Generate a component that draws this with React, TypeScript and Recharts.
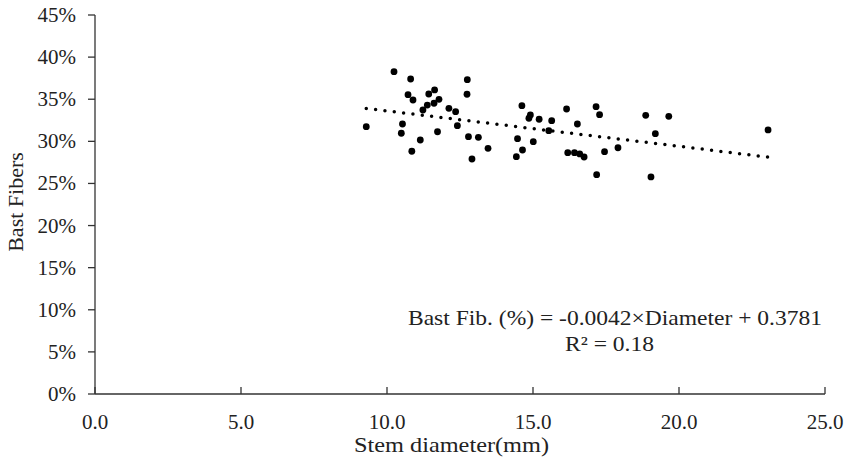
import { ScatterChart, Scatter, XAxis, YAxis } from 'recharts';

const diameter = [
  10.24, 10.81, 12.75, 10.72, 10.89, 11.43, 11.63, 11.78, 11.61, 11.38,
  11.23, 12.74, 12.12, 12.35, 12.41, 10.53, 10.49, 11.14, 10.85, 11.73,
  12.79, 13.13, 12.91, 13.46, 14.62, 14.91, 14.86, 15.21, 15.64, 15.54,
  14.47, 15.01, 14.64, 14.43, 16.15, 16.52, 17.16, 17.28, 16.19, 16.42,
  16.6, 16.75, 17.45, 17.91, 17.18, 18.86, 19.65, 19.19, 19.04, 23.05, 9.29,
];

const bastFiber = [
  0.3827, 0.374, 0.3732, 0.3554, 0.3491, 0.3562, 0.361, 0.3499, 0.3452, 0.3431,
  0.3372, 0.3559, 0.3392, 0.3352, 0.3186, 0.3206, 0.3096, 0.3016, 0.2882, 0.3114,
  0.3055, 0.3048, 0.279, 0.2917, 0.3423, 0.3313, 0.3274, 0.3262, 0.3245, 0.3126,
  0.3031, 0.2996, 0.2897, 0.2818, 0.3384, 0.3206, 0.3411, 0.3316, 0.2865, 0.2865,
  0.285, 0.2814, 0.2877, 0.2924, 0.2604, 0.3309, 0.3297, 0.3091, 0.2577, 0.3135, 0.3174,
];

const xTicks = [0, 5, 10, 15, 20, 25];
const yTicks = [0, 0.05, 0.1, 0.15, 0.2, 0.25, 0.3, 0.35, 0.4, 0.45];

// linear trendline shown on the chart
const slope = -0.0042;
const intercept = 0.3781;

const points = diameter.map((d, i) => ({ x: d, y: bastFiber[i] }));
const minX = Math.min(...diameter);
const maxX = Math.max(...diameter);
const trend = [
  { x: minX, y: slope * minX + intercept },
  { x: maxX, y: slope * maxX + intercept },
];

const font = '"Liberation Serif", "Times New Roman", serif';
const axisColor = '#333';

function XTick(props: any) {
  const { x, y, payload } = props;
  return (
    <g>
      <line x1={x} y1={y} x2={x} y2={y - 7} stroke={axisColor} strokeWidth={1.3} />
      <text x={x} y={y + 35} textAnchor="middle" fontFamily={font} fontSize={21} fill="#222">
        {payload.value.toFixed(1)}
      </text>
    </g>
  );
}

function YTick(props: any) {
  const { x, y, payload } = props;
  return (
    <text x={x} y={y + 7} textAnchor="end" fontFamily={font} fontSize={21} fill="#222">
      {Math.round(payload.value * 100)}%
    </text>
  );
}

export default function App() {
  return (
    <div style={{ position: 'relative', width: 849, height: 465, background: '#fff' }}>
      <style>{`body{margin:0}`}</style>
      <ScatterChart width={849} height={465} margin={{ top: 15, right: 24, bottom: 0, left: 0 }}>
        <XAxis
          type="number"
          dataKey="x"
          domain={[0, 25]}
          ticks={xTicks}
          height={71}
          tickSize={0}
          tickMargin={0}
          tickLine={false}
          tick={<XTick />}
          axisLine={{ stroke: axisColor, strokeWidth: 1.3 }}
        />
        <YAxis
          type="number"
          dataKey="y"
          domain={[0, 0.45]}
          ticks={yTicks}
          width={95}
          tickSize={7}
          tickMargin={12}
          tick={<YTick />}
          tickLine={{ stroke: axisColor, strokeWidth: 1.3 }}
          axisLine={{ stroke: axisColor, strokeWidth: 1.3 }}
        />
        <Scatter data={points} fill="#000" isAnimationActive={false} shape={(p: any) => <circle cx={p.cx} cy={p.cy} r={3.4} fill="#000" />} />
        <Scatter
          data={trend}
          isAnimationActive={false}
          line={{ stroke: '#000', strokeWidth: 3.5, strokeDasharray: '0 9.4', strokeLinecap: 'round' }}
          shape={() => <g />}
        />
      </ScatterChart>
      <svg width={849} height={465} style={{ position: 'absolute', left: 0, top: 0, pointerEvents: 'none' }}>
        <text x={354} y={452} textLength={195} lengthAdjust="spacingAndGlyphs" fontFamily={font} fontSize={22} fill="#222">
          Stem diameter(mm)
        </text>
        <text
          x={15}
          y={202}
          transform="rotate(-90 15 202)"
          textAnchor="middle"
          dominantBaseline="central"
          fontFamily={font}
          fontSize={22}
          fill="#222"
        >
          Bast Fibers
        </text>
        <text x={408} y={325} textLength={414} lengthAdjust="spacingAndGlyphs" fontFamily={font} fontSize={21} fill="#222">
          Bast Fib. (%) = -0.0042×Diameter  + 0.3781
        </text>
        <text x={565} y={351} textLength={89} lengthAdjust="spacingAndGlyphs" fontFamily={font} fontSize={21} fill="#222">
          R² = 0.18
        </text>
      </svg>
    </div>
  );
}
